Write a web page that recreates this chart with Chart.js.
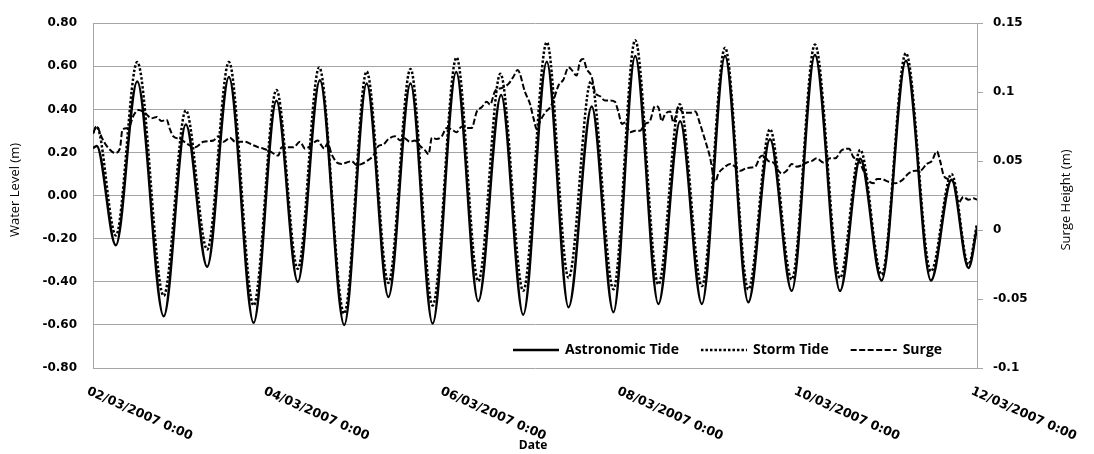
<!DOCTYPE html>
<html>
<head>
<meta charset="utf-8">
<script src="https://cdn.jsdelivr.net/npm/chart.js@4.4.0/dist/chart.umd.min.js"></script>
<style>
html, body { margin: 0; padding: 0; background: #fff; }
</style>
</head>
<body>
<canvas id="tideChart" width="1094" height="454"></canvas>
<script>
// hours since 02/03/2007 0:00
const tickDates = ['02/03/2007 0:00', '04/03/2007 0:00', '06/03/2007 0:00',
                   '08/03/2007 0:00', '10/03/2007 0:00', '12/03/2007 0:00'];

const astroHours = [0, 1.0, 6.2, 12.0, 19.2, 25.2, 31.0, 36.9, 43.6, 49.8, 55.6, 61.6, 68.2, 74.3, 80.2,
    86.2, 92.2, 98.6, 104.6, 110.8, 116.8, 123.2, 129.1, 135.4, 141.3, 147.2, 153.5, 159.4, 165.3,
    171.6, 177.9, 183.8, 189.7, 196.0, 202.8, 208.3, 214.1, 220.7, 227.5, 233.1, 237.7, 240];
const astroLevel = [0.22, 0.23, -0.23, 0.53, -0.56, 0.33, -0.33, 0.55, -0.59, 0.44, -0.40, 0.535, -0.60,
    0.52, -0.47, 0.52, -0.594, 0.573, -0.49, 0.467, -0.553, 0.621, -0.518, 0.414, -0.541, 0.648, -0.503,
    0.345, -0.503, 0.648, -0.495, 0.262, -0.442, 0.652, -0.442, 0.171, -0.394, 0.626, -0.394, 0.073,
    -0.336, -0.15];

const stormHours = [0, 1.0, 6.2, 12.0, 19.2, 25.2, 31.0, 36.9, 43.6, 49.8, 55.6, 61.4, 68.2, 74.3, 80.2,
    86.2, 92.2, 98.7, 104.6, 110.6, 116.8, 123.2, 129.1, 135.2, 141.3, 147.2, 153.5, 159.3, 165.3,
    171.6, 177.9, 183.8, 189.7, 196.0, 202.8, 208.3, 214.1, 220.7, 227.5, 233.1, 237.7, 240];
const stormLevel = [0.29, 0.32, -0.185, 0.62, -0.465, 0.395, -0.25, 0.62, -0.51, 0.49, -0.34, 0.595, -0.548,
    0.576, -0.405, 0.588, -0.51, 0.641, -0.397, 0.565, -0.442, 0.712, -0.382, 0.53, -0.435, 0.721, -0.412,
    0.424, -0.42, 0.686, -0.435, 0.308, -0.389, 0.701, -0.382, 0.212, -0.367, 0.661, -0.352, 0.10,
    -0.32, -0.13];

const surgeHours = [0, 1.0, 2.4, 3.7, 6.0, 7.3, 8.0, 9.6, 11.0, 12.3, 14.1, 15.9, 17.3, 18.6, 20.0, 20.9,
    21.8, 23.6, 25.9, 27.7, 30.0, 32.7, 34.0, 35.4, 37.2, 38.6, 41.3, 43.1, 44.9, 46.3, 48.1, 50.3, 51.2,
    54.4, 56.2, 57.6, 59.4, 61.0, 62.1, 62.8, 63.7, 64.8, 66.2, 67.5, 68.9, 70.2, 71.6, 73.0, 74.3, 76.1,
    77.5, 78.8, 80.2, 82.0, 83.4, 84.3, 86.1, 87.4, 88.8, 90.1, 91.1, 92.0, 93.3, 94.7, 96.0, 97.4, 98.7,
    100.1, 101.5, 102.8, 104.2, 105.5, 106.9, 107.8, 109.2, 111.0, 112.8, 114.1, 115.3, 117.3, 118.7,
    119.6, 120.5, 121.4, 122.7, 124.1, 125.0, 126.4, 127.7, 129.1, 130.0, 131.3, 132.2, 133.1, 134.0,
    135.4, 136.3, 137.7, 139.0, 140.4, 141.7, 142.6, 143.6, 144.5, 145.8, 147.2, 148.5, 149.9, 151.2,
    152.6, 153.5, 154.4, 155.3, 156.7, 157.6, 158.9, 160.3, 162.1, 163.5, 164.8, 166.2, 167.5, 168.9,
    169.8, 171.2, 173.0, 174.3, 175.7, 177.5, 179.8, 181.1, 182.0, 183.4, 184.7, 186.1, 187.0, 188.3,
    189.7, 191.1, 192.4, 193.8, 195.1, 196.5, 198.3, 200.1, 201.5, 203.3, 205.3, 206.4, 207.8, 209.2,
    210.5, 211.9, 212.8, 214.1, 216.0, 217.8, 219.6, 221.4, 223.2, 224.5, 226.4, 227.7, 229.1, 230.0,
    230.9, 232.2, 233.6, 235.0, 236.3, 237.7, 239.0, 240];
const surgeHeight = [0.070, 0.075, 0.067, 0.061, 0.056, 0.059, 0.073, 0.074, 0.083, 0.087, 0.085, 0.081,
    0.082, 0.079, 0.080, 0.073, 0.068, 0.066, 0.062, 0.060, 0.064, 0.065, 0.068, 0.064, 0.067, 0.064,
    0.064, 0.062, 0.060, 0.059, 0.057, 0.054, 0.060, 0.060, 0.064, 0.059, 0.062, 0.065, 0.061, 0.059,
    0.063, 0.055, 0.049, 0.048, 0.049, 0.050, 0.047, 0.048, 0.050, 0.054, 0.061, 0.062, 0.066, 0.068,
    0.065, 0.067, 0.064, 0.065, 0.061, 0.058, 0.055, 0.067, 0.066, 0.068, 0.074, 0.073, 0.071, 0.075,
    0.074, 0.074, 0.086, 0.089, 0.093, 0.091, 0.101, 0.103, 0.106, 0.111, 0.116, 0.100, 0.091, 0.081,
    0.073, 0.079, 0.085, 0.089, 0.094, 0.105, 0.109, 0.118, 0.116, 0.112, 0.122, 0.124, 0.117, 0.111,
    0.100, 0.097, 0.094, 0.094, 0.093, 0.086, 0.077, 0.078, 0.071, 0.072, 0.072, 0.077, 0.079, 0.090,
    0.089, 0.079, 0.084, 0.086, 0.078, 0.089, 0.085, 0.085, 0.086, 0.077, 0.065, 0.053, 0.035, 0.041,
    0.045, 0.048, 0.046, 0.043, 0.045, 0.046, 0.053, 0.054, 0.050, 0.049, 0.043, 0.041, 0.043, 0.048,
    0.046, 0.047, 0.049, 0.050, 0.052, 0.049, 0.052, 0.052, 0.058, 0.059, 0.053, 0.051, 0.043, 0.036,
    0.034, 0.037, 0.037, 0.035, 0.034, 0.036, 0.041, 0.043, 0.043, 0.048, 0.050, 0.057, 0.050, 0.040,
    0.037, 0.035, 0.020, 0.024, 0.022, 0.023, 0.022];

const seriesNames = ['Astronomic Tide', 'Storm Tide', 'Surge'];

function toPoints(hours, values) {
    return hours.map((h, i) => ({ x: h, y: values[i] }));
}

const gridGrey = '#a6a6a6';

// text that Chart.js can't place the way Excel did
const excelText = {
    id: 'excelText',
    afterDraw(chart) {
        const { ctx, chartArea, scales } = chart;
        ctx.save();
        ctx.fillStyle = '#000';

        // slanted date labels
        ctx.font = 'bold 12.5px "DejaVu Sans"';
        ctx.textAlign = 'left';
        ctx.textBaseline = 'top';
        scales.x.ticks.forEach((t) => {
            const px = scales.x.getPixelForValue(t.value);
            ctx.save();
            ctx.translate(px - 3, chartArea.bottom + 17);
            ctx.rotate(24 * Math.PI / 180);
            ctx.fillText(tickDates[Math.round(t.value / 48)], 0, 0);
            ctx.restore();
        });

        ctx.font = 'bold 12px "Open Sans"';
        ctx.textAlign = 'center';
        ctx.textBaseline = 'middle';
        ctx.fillText('Date', 533, 446);

        // axis titles, both read bottom to top
        ctx.font = '13px "Open Sans"';
        [['Water Level (m)', 15, 190], ['Surge Height (m)', 1066, 200]].forEach(([txt, x, y]) => {
            ctx.save();
            ctx.translate(x, y);
            ctx.rotate(-Math.PI / 2);
            ctx.fillText(txt, 0, 0);
            ctx.restore();
        });

        // legend inside the plot, bottom right
        ctx.font = 'bold 14px "Open Sans"';
        ctx.textAlign = 'left';
        let lx = 513;
        const ly = 350;
        chart.data.datasets.forEach((ds) => {
            ctx.save();
            ctx.strokeStyle = ds.borderColor;
            ctx.lineWidth = ds.borderWidth;
            ctx.setLineDash(ds.borderDash || []);
            ctx.beginPath();
            ctx.moveTo(lx, ly);
            ctx.lineTo(lx + 46, ly);
            ctx.stroke();
            ctx.restore();
            lx += 52;
            ctx.fillText(ds.label, lx, ly);
            lx += ctx.measureText(ds.label).width + 22;
        });
        ctx.restore();
    }
};

new Chart(document.getElementById('tideChart'), {
    type: 'line',
    data: {
        datasets: [
            {
                label: seriesNames[0],
                data: toPoints(astroHours, astroLevel),
                yAxisID: 'y',
                borderColor: '#000',
                borderWidth: 2.5,
                cubicInterpolationMode: 'monotone'
            },
            {
                label: seriesNames[1],
                data: toPoints(stormHours, stormLevel),
                yAxisID: 'y',
                borderColor: '#000',
                borderWidth: 2.5,
                borderDash: [2.5, 2],
                cubicInterpolationMode: 'monotone'
            },
            {
                label: seriesNames[2],
                data: toPoints(surgeHours, surgeHeight),
                yAxisID: 'y2',
                borderColor: '#000',
                borderWidth: 2,
                borderDash: [6, 2.5],
                cubicInterpolationMode: 'monotone'
            }
        ]
    },
    options: {
        responsive: false,
        animation: false,
        layout: { padding: { top: 17, left: 0, right: 0, bottom: 0 } },
        elements: { point: { radius: 0 } },
        plugins: {
            legend: { display: false },
            tooltip: { enabled: false }
        },
        scales: {
            x: {
                type: 'linear',
                min: 0,
                max: 240,
                ticks: { display: false, stepSize: 48 },
                grid: { display: false },
                border: { display: false },
                afterFit: (s) => { s.height = 86; }
            },
            y: {
                position: 'left',
                min: -0.8,
                max: 0.8,
                ticks: {
                    stepSize: 0.2,
                    padding: 16,
                    color: '#000',
                    font: { family: 'DejaVu Sans', size: 12, weight: 'bold' },
                    callback: (v) => v.toFixed(2)
                },
                grid: { color: gridGrey, drawTicks: false },
                border: { color: gridGrey },
                afterFit: (s) => { s.width = 93; }
            },
            y2: {
                position: 'right',
                min: -0.1,
                max: 0.15,
                ticks: {
                    stepSize: 0.05,
                    padding: 10,
                    color: '#000',
                    font: { family: 'DejaVu Sans', size: 12, weight: 'bold' },
                    callback: (v) => String(Number(v.toFixed(2)))
                },
                grid: { drawOnChartArea: false, drawTicks: true, tickLength: 6, color: gridGrey },
                border: { color: gridGrey },
                afterFit: (s) => { s.width = 117; }
            }
        }
    },
    plugins: [excelText]
});
</script>
</body>
</html>
